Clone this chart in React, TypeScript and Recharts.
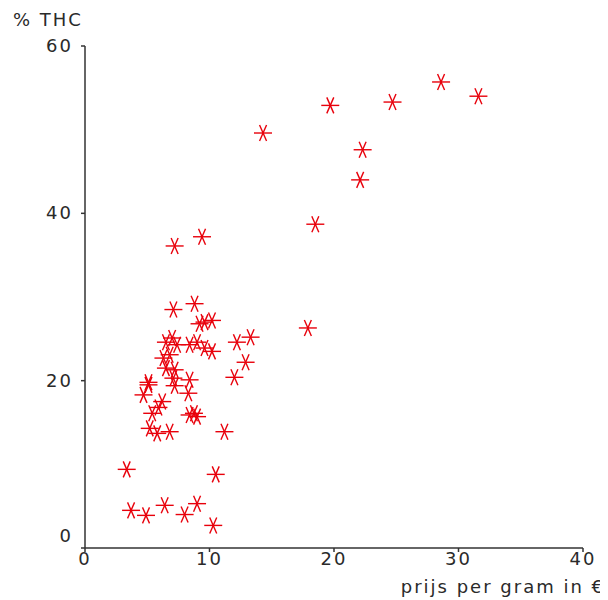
import { Scatter, ScatterChart, XAxis, YAxis } from "recharts";

// price per gram (€) and THC percentage per sample
const prices = [
  28.6, 31.6, 24.7, 19.7, 14.3, 22.3, 22.1, 18.5, 17.9,
  7.2, 9.4,
  7.1, 8.8, 10.2, 9.2, 9.6, 7.0, 6.5, 7.4, 8.4, 9.0, 9.6, 10.2, 12.2, 13.3,
  6.3, 6.8, 6.5, 7.2, 7.1, 5.1, 5.1, 7.2, 8.4, 12.9, 12.0, 4.7, 8.3,
  6.2, 5.9, 5.4, 8.75, 9.0, 8.4, 5.2, 5.8, 6.8, 11.2,
  3.35, 10.5, 3.7, 4.9, 6.4, 8.0, 9.0, 10.3,
];
const thc = [
  55.7, 54.0, 53.3, 52.9, 49.6, 47.6, 44.0, 38.7, 26.3,
  36.1, 37.2,
  28.5, 29.2, 27.2, 26.8, 27.0, 25.1, 24.6, 24.3, 24.3, 24.6, 23.9, 23.5, 24.6, 25.2,
  22.7, 23.1, 21.5, 21.3, 20.3, 19.5, 19.8, 19.4, 20.1, 22.2, 20.4, 18.3, 18.5,
  17.5, 16.8, 16.1, 16.1, 15.7, 15.9, 14.3, 13.7, 13.9, 13.9,
  9.4, 8.8, 4.5, 3.9, 5.1, 4.0, 5.3, 2.7,
];
const xTicks = [0, 10, 20, 30, 40];
const yTicks = [0, 20, 40, 60];

const data = prices.map((p, i) => ({ price: p, thc: thc[i] }));

const FONT = "'DejaVu Sans', Verdana, sans-serif";
const TEXT = "#2a2a2a";
const RED = "#e8000b";

function Star(props: any) {
  const { cx, cy } = props;
  if (cx == null || cy == null) return null;
  return (
    <g stroke={RED} strokeWidth={1.4} fill="none">
      <line x1={cx - 9} y1={cy} x2={cx + 9} y2={cy} />
      <line x1={cx - 3.5} y1={cy - 8} x2={cx + 3.5} y2={cy + 8} />
      <line x1={cx + 3.5} y1={cy - 8} x2={cx - 3.5} y2={cy + 8} />
    </g>
  );
}

function XTick(props: any) {
  const { x, y, payload } = props;
  return (
    <text x={x} y={y + 11} textAnchor="middle" fontFamily={FONT} fontSize={18} letterSpacing={2} fill={TEXT}>
      {payload.value}
    </text>
  );
}

function YTick(props: any) {
  const { x, y, payload } = props;
  // the zero label sits a little above the axis corner
  const shift = payload.value === 0 ? -12 : 0;
  return (
    <text x={x - 6} y={y + shift + 6} textAnchor="end" fontFamily={FONT} fontSize={18} letterSpacing={2} fill={TEXT}>
      {payload.value}
    </text>
  );
}

export default function App() {
  return (
    <div style={{ position: "relative", width: 600, height: 592 }}>
      <ScatterChart width={600} height={590} margin={{ top: 38, right: 25, bottom: 20, left: 17 }}>
        <XAxis
          type="number"
          dataKey="price"
          domain={[0, 40]}
          ticks={xTicks}
          height={30}
          stroke="#333"
          strokeWidth={1.5}
          tickSize={4}
          tick={<XTick />}
          interval={0}
        />
        <YAxis
          type="number"
          dataKey="thc"
          domain={[0, 60]}
          ticks={yTicks}
          width={60}
          stroke="#333"
          strokeWidth={1.5}
          tickSize={4}
          tick={<YTick />}
          interval={0}
        />
        <Scatter data={data} shape={<Star />} isAnimationActive={false} />
      </ScatterChart>
      <span
        style={{
          position: "absolute",
          left: 5,
          top: 1,
          fontFamily: FONT,
          fontSize: 18,
          letterSpacing: 2,
          color: TEXT,
          whiteSpace: "nowrap",
        }}
      >
        % THC
      </span>
      <span
        style={{
          position: "absolute",
          right: 3,
          top: 568,
          fontFamily: FONT,
          fontSize: 18,
          letterSpacing: 2,
          color: TEXT,
          whiteSpace: "nowrap",
        }}
      >
        prijs per gram in €
      </span>
    </div>
  );
}
